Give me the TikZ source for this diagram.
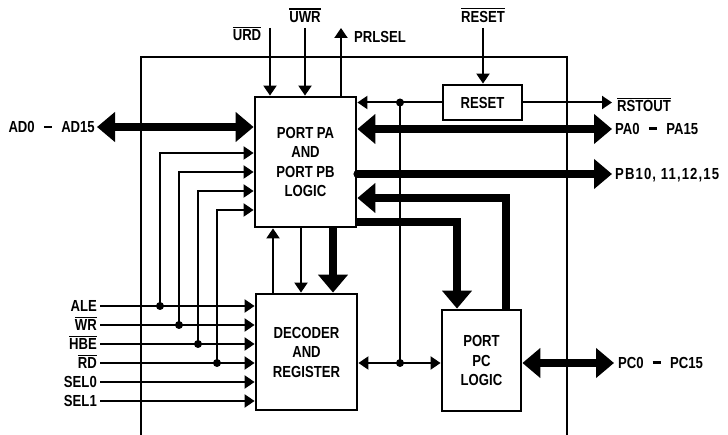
\documentclass[tikz,border=0pt]{standalone}
\usepackage{fontspec}
\setmainfont{Liberation Sans}[FakeStretch=0.82]
\usetikzlibrary{arrows.meta, positioning, calc}
\newcommand{\ovl}[1]{\setbox0=\hbox{#1}\rlap{\rule[\dimexpr\ht0+1.6pt\relax]{\wd0}{1.3pt}}\box0}
\newcommand{\wdash}{\hspace{9pt}\rule[4.6pt]{8.5pt}{2.4pt}\hspace{9pt}}
\tikzset{
  block/.style={
    rectangle, draw, line width=2.8pt, align=center, inner sep=0pt,
    font=\bfseries\fontsize{16}{19.5}\selectfont
  },
  lbl/.style={
    inner sep=2pt, text height=11.5pt, text depth=0pt,
    font=\bfseries\fontsize{16}{19.5}\selectfont
  },
  wide/.style={font=\bfseries\fontsize{16}{19.5}\selectfont\addfontfeature{LetterSpace=7}},
  frame/.style={line width=2.2pt},
  wire/.style={line width=2pt},
  sig/.style={wire, -{Triangle[length=10pt, width=13pt]}},
  sigboth/.style={wire, {Triangle[length=10pt, width=13pt]}-{Triangle[length=10pt, width=13pt]}},
  bus/.style={line width=8pt, -{Triangle[length=18pt, width=29pt]}},
  busboth/.style={line width=8pt, {Triangle[length=18pt, width=29pt]}-{Triangle[length=18pt, width=29pt]}},
  dot/.style={circle, fill, inner sep=0pt, minimum size=8pt}
}

\begin{document}
\begin{tikzpicture}[x=1pt, y=-1pt]
  \useasboundingbox (0,0) rectangle (728,435);

  % ── Outer frame ──────────────────────────────────────────────────
  \coordinate (fbl) at (141,435);
  \coordinate (ftr) at (567,57);
  \coordinate (fbr) at (567,435);
  \draw[frame] (fbl) |- (ftr) -- (fbr);

  % ── Blocks ───────────────────────────────────────────────────────
  \node[block, minimum width=101pt, minimum height=130pt] (pa)
    at (305.5,162) {PORT PA\\AND\\PORT PB\\LOGIC};
  \node[block, minimum width=101pt, minimum height=116pt] (dec)
    at (306.5,352) {DECODER\\AND\\REGISTER};
  \node[block, minimum width=79pt, minimum height=101pt] (pc)
    at (481.5,360.5) {PORT\\PC\\LOGIC};
  \node[block, minimum width=79pt, minimum height=35pt] (rst)
    at (482.5,102.5) {RESET};

  % ── Junctions ────────────────────────────────────────────────────
  \node[dot] (jale) at (160,306) {};
  \node[dot] (jwr)  at (179,325) {};
  \node[dot] (jhbe) at (198,344) {};
  \node[dot] (jrd)  at (217,363) {};
  \node[dot] (jrst) at (400,102.5) {};
  \node[dot] (jdec) at (400,363) {};

  % ── Free ends ────────────────────────────────────────────────────
  \coordinate (urd)    at (270,28);
  \coordinate (uwr)    at (305,28);
  \coordinate (prl)    at (341,28);
  \coordinate (reset)  at (483,28);
  \coordinate (adbus)  at (97,127);
  \coordinate (rstout) at (612,102.5);
  \coordinate (pabus)  at (612,129);
  \coordinate (pbbus)  at (612,174);
  \coordinate (pcbus)  at (614,363);
  \coordinate (ale)  at (100,306);
  \coordinate (wr)   at (100,325);
  \coordinate (hbe)  at (100,344);
  \coordinate (rd)   at (100,363);
  \coordinate (sel0) at (100,382);
  \coordinate (sel1) at (100,401);

  % ── Labels ───────────────────────────────────────────────────────
  \node[lbl] at (247,35)   {\ovl{URD}};
  \node[lbl] at (305,16.5) {\ovl{UWR}};
  \node[lbl] at (483,16.5) {\ovl{RESET}};
  \node[lbl, anchor=west] at (352,36.5)  {PRLSEL};
  \node[lbl, anchor=east] at (adbus)     {AD0\wdash AD15};
  \node[lbl, anchor=west] at (615,106)   {\ovl{RSTOUT}};
  \node[lbl, anchor=west] at (613,128.5) {PA0\wdash PA15};
  \node[lbl, wide, anchor=west] at (613,174) {PB10, 11,12,15};
  \node[lbl, anchor=west] at (616,362.5) {PC0\wdash PC15};
  \node[lbl, anchor=east, inner sep=3pt] at (ale)  {ALE};
  \node[lbl, anchor=east, inner sep=3pt] at (wr)   {\ovl{WR}};
  \node[lbl, anchor=east, inner sep=3pt] at (hbe)  {\ovl{HBE}};
  \node[lbl, anchor=east, inner sep=3pt] at (rd)   {\ovl{RD}};
  \node[lbl, anchor=east, inner sep=3pt] at (sel0) {SEL0};
  \node[lbl, anchor=east, inner sep=3pt] at (sel1) {SEL1};

  % ── Top signals ──────────────────────────────────────────────────
  \draw[sig] (urd) -- (pa.north -| urd);
  \draw[sig] (uwr) -- (pa.north -| uwr);
  \draw[sig] (pa.north -| prl) -- (prl);
  \draw[sig] (reset) -- (rst.north -| reset);

  % ── Reset distribution ───────────────────────────────────────────
  \draw[sig] (rst.west) -- (pa.east |- rst.west);
  \draw[sig] (rst.east) -- (rstout);
  \draw[wire] (jrst.center) -- (jdec.center);
  \draw[sigboth] (dec.east |- jdec) -- (pc.west |- jdec);

  % ── Buses ────────────────────────────────────────────────────────
  \draw[busboth] (adbus) -- (pa.west |- adbus);
  \draw[busboth] (pa.east |- pabus) -- (pabus);
  \draw[bus, line cap=round] (pa.east |- pbbus) -- (pbbus);
  \draw[bus] (pc.north -| 506,0) |- (pa.east |- 0,198);
  \draw[bus] (pa.east |- 0,222) -| (pc.north -| 457,0);
  \draw[bus] (pa.south -| 333,0) -- (dec.north -| 333,0);
  \draw[busboth] (pc.east |- pcbus) -- (pcbus);

  % ── Between PA/PB logic and decoder ──────────────────────────────
  \draw[sig] (dec.north -| 273,0) -- (pa.south -| 273,0);
  \draw[sig] (pa.south -| 301,0) -- (dec.north -| 301,0);

  % ── Control inputs ───────────────────────────────────────────────
  \foreach \s in {ale, wr, hbe, rd, sel0, sel1}
    \draw[sig] (\s) -- (dec.west |- \s);
  \draw[sig] (jale.center) |- (pa.west |- 0,153);
  \draw[sig] (jwr.center)  |- (pa.west |- 0,172);
  \draw[sig] (jhbe.center) |- (pa.west |- 0,191);
  \draw[sig] (jrd.center)  |- (pa.west |- 0,210);
\end{tikzpicture}
\end{document}
